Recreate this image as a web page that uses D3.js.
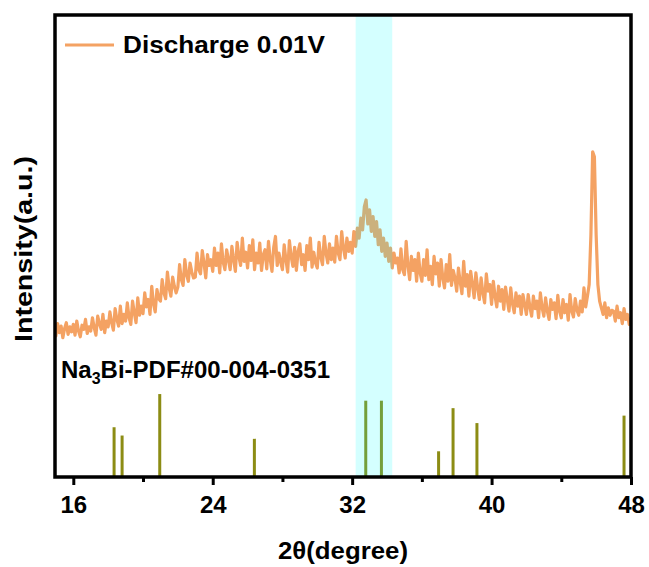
<!DOCTYPE html>
<html>
<head>
<meta charset="utf-8">
<script src="https://cdn.jsdelivr.net/npm/d3@7"></script>
<style>
  body { margin: 0; background: #ffffff; }
  text { font-family: "Liberation Sans", Arial, sans-serif; font-weight: bold; fill: #000000; }
</style>
</head>
<body>
<div class="chart"></div>
<script>
	// XRD pattern, sampled every 0.1 degree from 14.9
	var twoThetaStart = 14.9,
		twoThetaStep = 0.1;
	var intensity = [
		180,
		170, 185, 174, 182, 168, 179, 186, 172, 181, 175,
		184, 171, 188, 176, 169, 183, 178, 190, 173, 181,
		176, 192, 180, 171, 194, 185, 178, 196, 174, 188,
		181, 199, 186, 177, 203, 190, 182, 206, 185, 196,
		188, 210, 192, 184, 212, 198, 186, 216, 195, 206,
		197, 222, 205, 214, 196, 230, 209, 199, 226, 215,
		212, 238, 222, 215, 247, 228, 218, 241, 230, 222,
		229, 256, 238, 231, 262, 244, 236, 258, 247, 240,
		241, 270, 250, 245, 273, 258, 240, 268, 255, 262,
		248, 276, 255, 270, 246, 281, 259, 250, 274, 262,
		250, 278, 262, 248, 283, 266, 255, 288, 260, 271,
		252, 279, 261, 286, 250, 270, 258, 282, 249, 268,
		274, 251, 284, 262, 248, 277, 290, 255, 270, 259,
		250, 280, 262, 247, 285, 266, 254, 277, 249, 272,
		281, 256, 268, 249, 279, 262, 288, 253, 271, 258,
		252, 283, 265, 256, 290, 270, 258, 281, 262, 276,
		259, 290, 270, 262, 296, 276, 264, 288, 272, 283,
		270, 296, 278, 300, 288, 312, 298, 326, 334, 305,
		322, 296, 314, 290, 308, 280, 298, 272, 288, 266,
		282, 260, 276, 252, 270, 258, 264, 246, 275, 250,
		244, 284, 255, 238, 266, 249, 262, 236, 270, 246,
		236, 262, 243, 274, 238, 254, 232, 266, 245, 258,
		230, 262, 240, 228, 256, 236, 268, 231, 249, 240,
		224, 252, 235, 221, 260, 230, 244, 218, 248, 233,
		216, 246, 228, 214, 240, 222, 210, 245, 224, 232,
		208, 236, 218, 205, 230, 212, 226, 202, 229, 214,
		200, 228, 209, 198, 222, 206, 218, 196, 220, 208,
		196, 220, 205, 194, 218, 203, 212, 192, 222, 204,
		194, 216, 200, 190, 214, 202, 210, 191, 219, 200,
		192, 214, 198, 208, 189, 220, 200, 193, 215, 201,
		195, 212, 199, 228, 205, 218, 232, 292, 392, 386,
		292, 232, 212, 204, 196, 210, 192, 204, 195, 201,
		200, 188, 206, 192, 198, 185, 203, 190, 196, 184,
		192
	];

	// Na3Bi reference lines (PDF#00-004-0351)
	var refPositions = [18.34, 18.80, 20.96, 26.39, 32.78, 33.68, 36.96, 37.79, 39.16, 47.60];
	var refHeights = [60, 50, 100, 46, 92, 92, 31, 83, 65, 74];

	// highlighted region
	var bandRange = [32.2, 34.3];

	// ticks
	var majorTicks = [16, 24, 32, 40, 48];
	var minorTicks = [20, 28, 36, 44];

	var width = 649,
		height = 567;
	var plotLeft = 55, plotRight = 631, plotTop = 15, plotBottom = 477;

	var svg = d3.select(".chart")
		.append("svg")
			.attr("width", width)
			.attr("height", height);

	// X Scale
	var x = d3.scaleLinear()
		.domain([14.95, 48])
		.range([plotLeft, plotRight]);

	// Y Scale
	var y = d3.scaleLinear()
		.domain([0, 557])
		.range([plotBottom, plotTop]);

	svg.append("clipPath")
		.attr("id", "plotClip")
		.append("rect")
			.attr("x", plotLeft)
			.attr("y", plotTop)
			.attr("width", plotRight - plotLeft)
			.attr("height", plotBottom - plotTop);

	var plot = svg.append("g").attr("clip-path", "url(#plotClip)");

	// XRD curve
	var xrd = intensity.map(function(v, i) {
		return { t: twoThetaStart + i * twoThetaStep, v: v };
	});
	var line = d3.line()
		.x(function(d) { return x(d.t); })
		.y(function(d) { return y(d.v); });

	plot.append("path")
		.datum(xrd)
		.attr("d", line)
		.attr("fill", "none")
		.attr("stroke", "#f4a263")
		.attr("stroke-width", 3.2)
		.attr("stroke-linejoin", "round");

	// reference bars
	plot.selectAll(".ref")
		.data(refPositions)
		.enter()
		.append("line")
			.attr("class", "ref")
			.attr("x1", function(d) { return x(d); })
			.attr("x2", function(d) { return x(d); })
			.attr("y1", y(0))
			.attr("y2", function(d, i) { return y(refHeights[i]); })
			.attr("stroke", "#8c8c14")
			.attr("stroke-width", 3);

	// cyan band
	plot.append("rect")
		.attr("x", x(bandRange[0]))
		.attr("y", y.range()[1])
		.attr("width", x(bandRange[1]) - x(bandRange[0]))
		.attr("height", y.range()[0] - y.range()[1])
		.attr("fill", "rgba(0,255,255,0.17)");

	// X Axis (major + minor ticks)
	var xAxis = d3.axisBottom(x)
		.tickValues(majorTicks)
		.tickSize(8)
		.tickPadding(11)
		.tickFormat(function(d) { return d; });
	var xAxisGroup = svg.append("g")
		.attr("transform", "translate(0," + plotBottom + ")")
		.call(xAxis);
	xAxisGroup.select(".domain").remove();
	xAxisGroup.selectAll("line").attr("stroke", "#000").attr("stroke-width", 3);
	xAxisGroup.selectAll("text")
		.attr("font-size", "24px")
		.attr("font-weight", "bold")
		.attr("font-family", "'Liberation Sans', Arial, sans-serif")
		.attr("fill", "#000");

	var xMinor = d3.axisBottom(x)
		.tickValues(minorTicks)
		.tickSize(5)
		.tickFormat("");
	var xMinorGroup = svg.append("g")
		.attr("transform", "translate(0," + plotBottom + ")")
		.call(xMinor);
	xMinorGroup.select(".domain").remove();
	xMinorGroup.selectAll("line").attr("stroke", "#000").attr("stroke-width", 3);

	// frame
	svg.append("rect")
		.attr("x", plotLeft)
		.attr("y", plotTop)
		.attr("width", plotRight - plotLeft)
		.attr("height", plotBottom - plotTop)
		.attr("fill", "none")
		.attr("stroke", "#000")
		.attr("stroke-width", 3.5);

	// legend
	svg.append("line")
		.attr("x1", 65).attr("x2", 114)
		.attr("y1", 45).attr("y2", 45)
		.attr("stroke", "#f4a263")
		.attr("stroke-width", 3);
	svg.append("text")
		.attr("x", 123)
		.attr("y", 53)
		.attr("font-size", "23px")
		.attr("textLength", 202)
		.attr("lengthAdjust", "spacingAndGlyphs")
		.text("Discharge 0.01V");

	// reference label
	var refLabel = svg.append("text")
		.attr("x", 61)
		.attr("y", 378)
		.attr("font-size", "24px");
	refLabel.append("tspan").text("Na");
	refLabel.append("tspan").attr("font-size", "16px").attr("dy", 6).text("3");
	refLabel.append("tspan").attr("dy", -6).text("Bi-PDF#00-004-0351");

	// X Label
	svg.append("text")
		.attr("x", 343)
		.attr("y", 559)
		.attr("font-size", "23px")
		.attr("text-anchor", "middle")
		.attr("textLength", 130)
		.attr("lengthAdjust", "spacingAndGlyphs")
		.text("2θ(degree)");

	// Y Label
	svg.append("text")
		.attr("transform", "translate(32,249) rotate(-90)")
		.attr("font-size", "23px")
		.attr("text-anchor", "middle")
		.attr("textLength", 186)
		.attr("lengthAdjust", "spacingAndGlyphs")
		.text("Intensity(a.u.)");
</script>
</body>
</html>
